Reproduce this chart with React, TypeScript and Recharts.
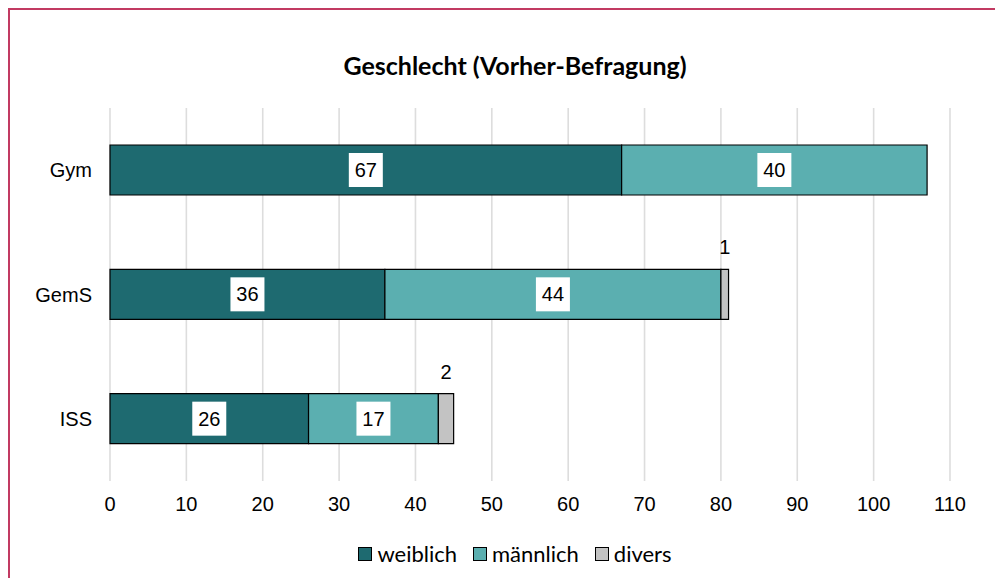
import React from "react";
import { BarChart, Bar, XAxis, YAxis, CartesianGrid, LabelList } from "recharts";

const schools = ["Gym", "GemS", "ISS"];
const weiblich = [67, 36, 26];
const maennlich = [40, 44, 17];
const divers = [0, 1, 2];
const xTicks = [0, 10, 20, 30, 40, 50, 60, 70, 80, 90, 100, 110];

const data = schools.map((s, i) => ({
  school: s,
  weiblich: weiblich[i],
  maennlich: maennlich[i],
  divers: divers[i],
}));

const C_W = "#1E6A70";
const C_M = "#5BAFB0";
const C_D = "#C3C3C3";
const AXIS_FONT = "'Liberation Sans', Arial, sans-serif";
const TITLE_FONT = "Lato, 'Noto Sans', sans-serif";

const boxLabel = (props: any) => {
  const { x, y, width, height, value } = props;
  if (!value) return null;
  const cx = x + width / 2;
  const cy = y + height / 2;
  return (
    <g>
      <rect x={cx - 17} y={cy - 17} width={34} height={34} fill="#fff" />
      <text x={cx} y={cy} textAnchor="middle" dominantBaseline="central" fontSize={20} fontFamily={AXIS_FONT} fill="#000">
        {value}
      </text>
    </g>
  );
};

const topLabel = (props: any) => {
  const { x, y, width, value } = props;
  if (!value) return null;
  return (
    <text x={x + width / 2} y={y - 22} textAnchor="middle" dominantBaseline="central" fontSize={20} fontFamily={AXIS_FONT} fill="#000">
      {value}
    </text>
  );
};

const legendItems = [
  { name: "weiblich", color: C_W },
  { name: "männlich", color: C_M },
  { name: "divers", color: C_D },
];

export default function App() {
  return (
    <div
      style={{
        position: "relative",
        width: 995,
        height: 570,
        borderTop: "2px solid #C23A62",
        borderLeft: "2px solid #C23A62",
        boxSizing: "border-box",
        background: "#fff",
      }}
    >
      <div
        style={{
          position: "absolute",
          top: 40,
          left: 0,
          width: 1010,
          textAlign: "center",
          fontFamily: TITLE_FONT,
          fontWeight: 700,
          fontSize: 25,
          color: "#000",
        }}
      >
        Geschlecht (Vorher-Befragung)
      </div>
      <BarChart
        width={993}
        height={568}
        data={data}
        layout="vertical"
        margin={{ top: 98, right: 53, bottom: 0, left: 0 }}
        barSize={50}
      >
        <CartesianGrid horizontal={false} stroke="#DDDDDD" strokeWidth={1.6} />
        <XAxis
          type="number"
          domain={[0, 110]}
          ticks={xTicks}
          interval={0}
          axisLine={false}
          tickLine={false}
          tickSize={0}
          tickMargin={16}
          height={97}
          tick={{ fontSize: 20, fontFamily: AXIS_FONT, fill: "#000" }}
        />
        <YAxis
          type="category"
          dataKey="school"
          width={100}
          axisLine={false}
          tickLine={false}
          tickSize={0}
          tickMargin={18}
          tick={{ fontSize: 20, fontFamily: AXIS_FONT, fill: "#000" }}
        />
        <Bar dataKey="weiblich" stackId="a" fill={C_W} stroke="#000" strokeWidth={1.2} isAnimationActive={false}>
          <LabelList dataKey="weiblich" content={boxLabel} />
        </Bar>
        <Bar dataKey="maennlich" stackId="a" fill={C_M} stroke="#000" strokeWidth={1.2} isAnimationActive={false}>
          <LabelList dataKey="maennlich" content={boxLabel} />
        </Bar>
        <Bar dataKey="divers" stackId="a" fill={C_D} stroke="#000" strokeWidth={1.2} isAnimationActive={false}>
          <LabelList dataKey="divers" content={topLabel} />
        </Bar>
      </BarChart>
      <div
        style={{
          position: "absolute",
          top: 530,
          left: 0,
          width: 1010,
          display: "flex",
          justifyContent: "center",
          gap: 16,
          fontFamily: TITLE_FONT,
          fontSize: 22,
          color: "#000",
        }}
      >
        {legendItems.map((it) => (
          <div key={it.name} style={{ display: "flex", alignItems: "center" }}>
            <span
              style={{
                display: "inline-block",
                width: 12,
                height: 12,
                background: it.color,
                border: "1.5px solid #000",
                marginRight: 5,
              }}
            />
            {it.name}
          </div>
        ))}
      </div>
    </div>
  );
}
